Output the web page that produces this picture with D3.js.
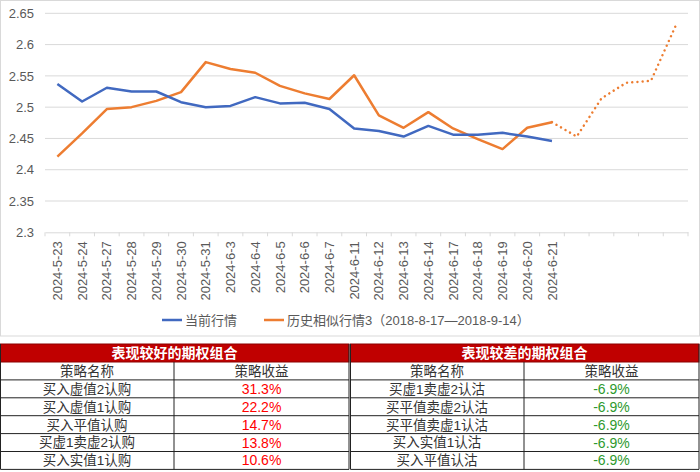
<!DOCTYPE html>
<html><head><meta charset="utf-8">
<script src="https://cdn.jsdelivr.net/npm/d3@7/dist/d3.min.js"></script>
<style>
html,body{margin:0;padding:0;background:#fff;}
svg{display:block;}
</style>
</head><body>
<svg id="c" width="700" height="472"></svg>
<script>
const categories = ["2024-5-23","2024-5-24","2024-5-27","2024-5-28","2024-5-29","2024-5-30","2024-5-31",
  "2024-6-3","2024-6-4","2024-6-5","2024-6-6","2024-6-7","2024-6-11","2024-6-12","2024-6-13","2024-6-14",
  "2024-6-17","2024-6-18","2024-6-19","2024-6-20","2024-6-21","","","","",""];
const currentSeries = [2.537,2.509,2.531,2.525,2.525,2.508,2.500,2.502,2.516,2.506,2.507,2.497,2.466,2.462,
  2.453,2.470,2.456,2.456,2.459,2.453,2.446];
const historySeries = [2.421,2.458,2.497,2.500,2.510,2.524,2.572,2.561,2.555,2.534,2.522,2.513,2.551,2.487,
  2.467,2.492,2.466,2.449,2.433,2.467,2.476,2.453,2.514,2.539,2.542,2.630];
const yTicks = [2.3,2.35,2.4,2.45,2.5,2.55,2.6,2.65];
const legendLabels = ["当前行情","历史相似行情3（2018-8-17—2018-9-14）"];
const goodTitle = "表现较好的期权组合";
const badTitle = "表现较差的期权组合";
const colHeaders = ["策略名称","策略收益"];
const goodNames = ["买入虚值2认购","买入虚值1认购","买入平值认购","买虚1卖虚2认购","买入实值1认购"];
const goodReturns = ["31.3%","22.2%","14.7%","13.8%","10.6%"];
const badNames = ["买虚1卖虚2认沽","买平值卖虚2认沽","买平值卖虚1认沽","买入实值1认沽","买入平值认沽"];
const badReturns = ["-6.9%","-6.9%","-6.9%","-6.9%","-6.9%"];

const svg = d3.select("#c");
const BLUE = "#4169c0", ORANGE = "#ed7d31";
const latin = "'Liberation Sans', Arial, sans-serif";
const cjk = "'Liberation Sans', 'Noto Sans CJK SC', sans-serif";

// chart frame
svg.append("rect").attr("x",0.5).attr("y",0.5).attr("width",699).attr("height",335.5)
  .attr("fill","#fff").attr("stroke","#d9d9d9");

const x = d3.scaleBand().domain(d3.range(categories.length)).range([45,688]);
const y = d3.scaleLinear().domain([2.3,2.65]).range([232.3,13.3]);

// gridlines
svg.append("g").selectAll("line").data(yTicks.slice(1)).join("line")
  .attr("x1",45).attr("x2",688).attr("y1",d=>y(d)).attr("y2",d=>y(d))
  .attr("stroke","#d9d9d9").attr("stroke-width",1);

// y axis
const yAxis = d3.axisLeft(y).tickValues(yTicks).tickSize(0).tickPadding(0)
  .tickFormat(d=>String(+d.toFixed(2)));
const gy = svg.append("g").attr("transform","translate(34,0)").call(yAxis);
gy.select(".domain").remove();
gy.selectAll("text").attr("font-family",latin).attr("font-size",13).attr("fill","#595959");

// x axis
const gx = svg.append("g").attr("transform",`translate(0,${y(2.3)})`)
  .call(d3.axisBottom(x).tickSize(0).tickFormat(i=>categories[i]));
gx.select(".domain").attr("stroke","#d9d9d9");
gx.selectAll(".tick text").attr("font-family",latin).attr("font-size",13).attr("fill","#595959")
  .attr("transform","rotate(-90)").attr("text-anchor","end").attr("dy","0.35em")
  .attr("x",-9).attr("y",0);
// boundary ticks
gx.append("g").selectAll("line").data(d3.range(categories.length+1)).join("line")
  .attr("x1",i=>45+i*x.step()).attr("x2",i=>45+i*x.step()).attr("y1",0).attr("y2",4)
  .attr("stroke","#d9d9d9");

const line = d3.line().x((d,i)=>x(d.i)+x.bandwidth()/2).y(d=>y(d.v));
const cur = currentSeries.map((v,i)=>({i,v}));
const hist = historySeries.map((v,i)=>({i,v}));
const lastSolid = currentSeries.length-1;

svg.append("path").attr("d",line(hist.slice(0,lastSolid+1))).attr("fill","none")
  .attr("stroke",ORANGE).attr("stroke-width",2.5).attr("stroke-linejoin","round");
svg.append("path").attr("d",line(hist.slice(lastSolid))).attr("fill","none")
  .attr("stroke",ORANGE).attr("stroke-width",2.5).attr("stroke-dasharray","0.01 5.2")
  .attr("stroke-linecap","round");
svg.append("path").attr("d",line(cur)).attr("fill","none")
  .attr("stroke",BLUE).attr("stroke-width",2.5).attr("stroke-linejoin","round");

// legend
const legend = [{c:BLUE,x:162,t:legendLabels[0]},{c:ORANGE,x:264,t:legendLabels[1]}];
const lg = svg.append("g");
legend.forEach(l=>{
  lg.append("line").attr("x1",l.x).attr("x2",l.x+20).attr("y1",320).attr("y2",320)
    .attr("stroke",l.c).attr("stroke-width",2.5);
  lg.append("text").attr("x",l.x+23).attr("y",320).attr("dy","0.35em")
    .attr("font-family",cjk).attr("font-size",13).attr("fill","#595959").text(l.t);
});

// tables
function table(x0, title, names, rets, retColor){
  const w = 349, c1 = 174;
  const top = 344, hh = 18, rh = 17.9;
  const g = svg.append("g").attr("transform",`translate(${x0},0)`);
  g.append("rect").attr("x",0.5).attr("y",top).attr("width",w-0.5).attr("height",hh)
    .attr("fill","#c00000").attr("stroke","#8b0000").attr("stroke-width",1);
  g.append("text").attr("x",w/2).attr("y",top+hh/2).attr("dy","0.36em").attr("text-anchor","middle")
    .attr("font-family","'Noto Sans CJK SC', sans-serif").attr("font-weight","bold")
    .attr("font-size",14).attr("fill","#fff").text(title);
  const rows = [{n:colHeaders[0],r:colHeaders[1],h:true}].concat(names.map((n,i)=>({n,r:rets[i]})));
  const y0 = top+hh;
  rows.forEach((row,i)=>{
    const yy = y0 + i*rh;
    g.append("line").attr("x1",0.5).attr("x2",w).attr("y1",yy+rh).attr("y2",yy+rh)
      .attr("stroke","#222").attr("stroke-width",1);
    g.append("text").attr("x",c1/2).attr("y",yy+rh/2).attr("dy","0.36em").attr("text-anchor","middle")
      .attr("font-family",cjk).attr("font-size",13.5).attr("fill","#333").text(row.n);
    g.append("text").attr("x",c1+(w-c1)/2).attr("y",yy+rh/2).attr("dy","0.36em").attr("text-anchor","middle")
      .attr("font-family",row.h?cjk:latin).attr("font-size",row.h?13.5:14)
      .attr("fill",row.h?"#333":retColor).text(row.r);
  });
  const bottom = y0 + rows.length*rh;
  [0.5, c1, w].forEach(xx=>{
    g.append("line").attr("x1",xx).attr("x2",xx).attr("y1",xx===c1?y0:top).attr("y2",bottom)
      .attr("stroke","#222").attr("stroke-width",1);
  });
}
table(0, goodTitle, goodNames, goodReturns, "#ff0000");
table(350, badTitle, badNames, badReturns, "#2e9a2e");
</script>
</body></html>
